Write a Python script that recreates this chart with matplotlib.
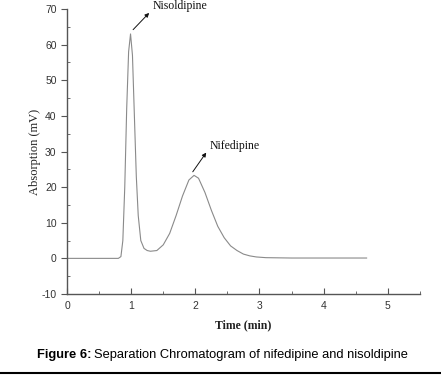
import matplotlib.pyplot as plt
from matplotlib.ticker import MultipleLocator

plt.rcParams['axes.unicode_minus'] = False

# Chromatogram values (time in min, signal in mV)
time_min = [0.0, 0.80, 0.84, 0.87, 0.90, 0.93, 0.96, 0.99, 1.02, 1.05, 1.08, 1.11,
            1.15, 1.20, 1.25, 1.30, 1.40, 1.50, 1.60, 1.70, 1.80, 1.90, 1.98, 2.05,
            2.15, 2.25, 2.35, 2.45, 2.55, 2.65, 2.75, 2.85, 2.95, 3.10, 3.50, 4.00, 4.67]
signal_mv = [0.0, 0.0, 0.5, 5.0, 20.0, 42.0, 58.0, 63.0, 57.0, 40.0, 23.0, 12.0,
             5.0, 2.8, 2.2, 2.0, 2.2, 3.8, 7.0, 12.0, 17.5, 22.0, 23.3, 22.5,
             18.5, 13.5, 9.0, 5.8, 3.5, 2.2, 1.2, 0.7, 0.4, 0.2, 0.1, 0.1, 0.1]

peak_names = ['Nisoldipine', 'Nifedipine']
peak_tips = [(1.03, 64.2), (1.96, 24.3)]
label_pos = [(1.34, 70.8), (2.23, 31.6)]

fig = plt.figure(figsize=(4.41, 3.75), dpi=100)
ax = fig.add_axes([0.152, 0.216, 0.80, 0.76])

ax.plot(time_min, signal_mv, color='#8a8a8a', linewidth=0.8)

ax.set_xlim(0, 5.5)
ax.set_ylim(-10, 70)
ax.xaxis.set_major_locator(MultipleLocator(1))
ax.xaxis.set_minor_locator(MultipleLocator(0.5))
ax.yaxis.set_major_locator(MultipleLocator(10))
ax.yaxis.set_minor_locator(MultipleLocator(5))
ax.set_xticks([0, 1, 2, 3, 4, 5])

for side in ['top', 'right']:
    ax.spines[side].set_visible(False)
for side in ['left', 'bottom']:
    ax.spines[side].set_color('#555555')
    ax.spines[side].set_linewidth(1.0)

ax.tick_params(axis='x', which='both', direction='in', color='#555555',
               labelsize=7.5, labelcolor='#333333', pad=5)
ax.tick_params(axis='x', which='major', length=4)
ax.tick_params(axis='x', which='minor', length=2.5)
ax.tick_params(axis='y', which='major', direction='out', length=4, color='#555555',
               labelsize=7.5, labelcolor='#333333')
ax.tick_params(axis='y', which='minor', direction='in', length=2.5, color='#555555')
for lab in ax.get_xticklabels() + ax.get_yticklabels():
    lab.set_fontfamily('Liberation Sans')

ax.set_xlabel('Time (min)', family='Liberation Serif', fontsize=8.5,
              fontweight='bold', color='#222222', labelpad=6)
ax.set_ylabel('Absorption (mV)', family='Liberation Serif', fontsize=9,
              color='#222222', labelpad=0)

for name, tip, pos in zip(peak_names, peak_tips, label_pos):
    ax.annotate('', xy=(pos[0] - 0.06, pos[1] - 1.9), xytext=tip,
                arrowprops=dict(arrowstyle='-|>', color='#111111', lw=0.7,
                                mutation_scale=6, shrinkA=0, shrinkB=0),
                annotation_clip=False)
    ax.text(pos[0], pos[1], name, family='Liberation Serif', fontsize=8.5,
            color='#111111', va='center', ha='left', clip_on=False)

# caption: bold lead-in followed by plain text
cap_y = 0.053
lead = fig.text(0.084, cap_y, 'Figure 6:', family='Liberation Sans', fontsize=9.3,
                fontweight='bold', ha='left', va='center')
fig.canvas.draw()
bb = lead.get_window_extent().transformed(fig.transFigure.inverted())
fig.text(bb.x1 + 0.006, cap_y, 'Separation Chromatogram of nifedipine and nisoldipine',
         family='Liberation Sans', fontsize=9.3, ha='left', va='center')

fig.add_artist(plt.Line2D([0, 1], [0.005, 0.005], color='black', linewidth=1.5,
                          transform=fig.transFigure))

fig.savefig('out.png', dpi=100)
